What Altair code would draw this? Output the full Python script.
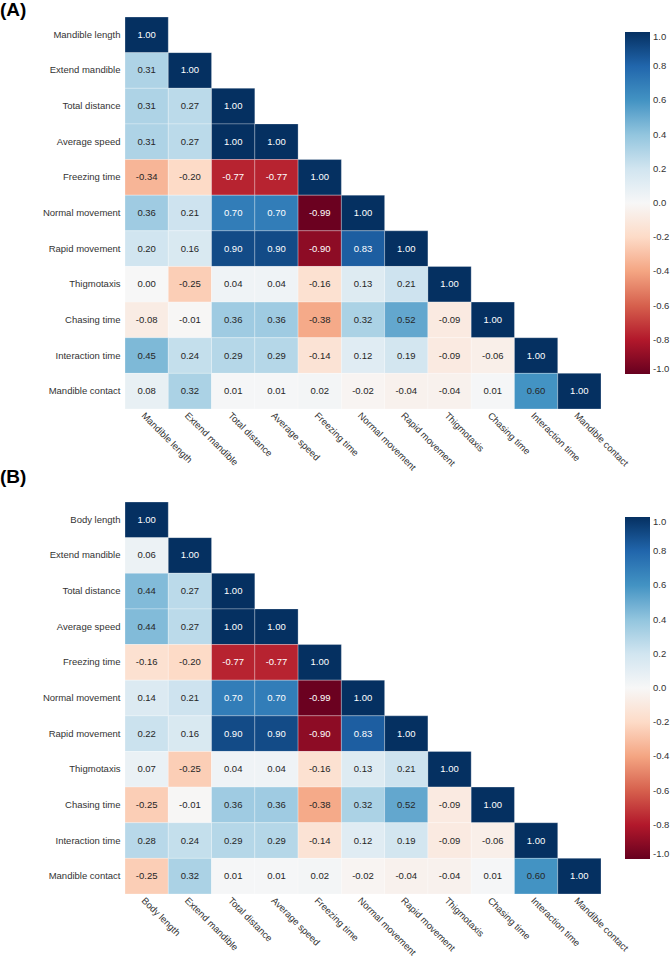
import altair as alt
import pandas as pd

# Variables of the two correlation matrices (row/column order)
vars_a = ["Mandible length", "Extend mandible", "Total distance", "Average speed",
          "Freezing time", "Normal movement", "Rapid movement", "Thigmotaxis",
          "Chasing time", "Interaction time", "Mandible contact"]
vars_b = ["Body length", "Extend mandible", "Total distance", "Average speed",
          "Freezing time", "Normal movement", "Rapid movement", "Thigmotaxis",
          "Chasing time", "Interaction time", "Mandible contact"]

# Lower triangle of each Pearson correlation matrix, one list per row
rows_a = [
    [1.00],
    [0.31, 1.00],
    [0.31, 0.27, 1.00],
    [0.31, 0.27, 1.00, 1.00],
    [-0.34, -0.20, -0.77, -0.77, 1.00],
    [0.36, 0.21, 0.70, 0.70, -0.99, 1.00],
    [0.20, 0.16, 0.90, 0.90, -0.90, 0.83, 1.00],
    [0.00, -0.25, 0.04, 0.04, -0.16, 0.13, 0.21, 1.00],
    [-0.08, -0.01, 0.36, 0.36, -0.38, 0.32, 0.52, -0.09, 1.00],
    [0.45, 0.24, 0.29, 0.29, -0.14, 0.12, 0.19, -0.09, -0.06, 1.00],
    [0.08, 0.32, 0.01, 0.01, 0.02, -0.02, -0.04, -0.04, 0.01, 0.60, 1.00],
]
rows_b = [
    [1.00],
    [0.06, 1.00],
    [0.44, 0.27, 1.00],
    [0.44, 0.27, 1.00, 1.00],
    [-0.16, -0.20, -0.77, -0.77, 1.00],
    [0.14, 0.21, 0.70, 0.70, -0.99, 1.00],
    [0.22, 0.16, 0.90, 0.90, -0.90, 0.83, 1.00],
    [0.07, -0.25, 0.04, 0.04, -0.16, 0.13, 0.21, 1.00],
    [-0.25, -0.01, 0.36, 0.36, -0.38, 0.32, 0.52, -0.09, 1.00],
    [0.28, 0.24, 0.29, 0.29, -0.14, 0.12, 0.19, -0.09, -0.06, 1.00],
    [-0.25, 0.32, 0.01, 0.01, 0.02, -0.02, -0.04, -0.04, 0.01, 0.60, 1.00],
]

# Colour bar tick values
cbar_ticks = [1.0, 0.8, 0.6, 0.4, 0.2, 0.0, -0.2, -0.4, -0.6, -0.8, -1.0]

# Diverging red-blue palette (ColorBrewer RdBu, 11 stops from -1 to 1)
RDBU_STOPS = [-1.0, -0.8, -0.6, -0.4, -0.2, 0.0, 0.2, 0.4, 0.6, 0.8, 1.0]
RDBU = ["#67001f", "#b2182b", "#d6604d", "#f4a582", "#fddbc7", "#f7f7f7",
        "#d1e5f0", "#92c5de", "#4393c3", "#2166ac", "#053061"]

FONT = "Liberation Sans"
TXT = "#333333"


def to_long(names, rows):
    recs = []
    for i, row in enumerate(rows):
        for j, v in enumerate(row):
            recs.append({"row": names[i], "col": names[j], "r": v, "label": f"{v:.2f}"})
    return pd.DataFrame(recs)


def panel(tag, names, rows, title_offset):
    df = to_long(names, rows)
    base = alt.Chart(df).encode(
        x=alt.X("col:N", sort=names, title=None,
                scale=alt.Scale(paddingInner=0, paddingOuter=0),
                axis=alt.Axis(labelAngle=45, labelAlign="left", labelBaseline="top",
                              labelFont=FONT, labelFontSize=9.5, labelColor=TXT,
                              labelPadding=1, ticks=False, domain=False)),
        y=alt.Y("row:N", sort=names, title=None,
                scale=alt.Scale(paddingInner=0, paddingOuter=0),
                axis=alt.Axis(labelFont=FONT, labelFontSize=9.5, labelColor=TXT,
                              labelPadding=5, ticks=False, domain=False)),
    )
    cells = base.mark_rect(stroke="white", strokeWidth=0.6, strokeOpacity=0.45).encode(
        color=alt.Color(
            "r:Q",
            scale=alt.Scale(domain=RDBU_STOPS, range=RDBU, interpolate="rgb"),
            legend=alt.Legend(
                title=None, orient="none", legendX=500, legendY=15,
                direction="vertical", gradientLength=342, gradientThickness=25,
                gradientStrokeWidth=0, values=cbar_ticks,
                labelExpr="replace(format(datum.value, '.1f'), '\u2212', '-')",
                labelFont=FONT, labelFontSize=9.5, labelColor=TXT,
                labelOffset=3, labelOverlap=False,
            ),
        )
    )
    labels = base.mark_text(font=FONT, fontSize=9.5).encode(
        text="label:N",
        color=alt.condition("abs(datum.r) >= 0.65", alt.value("white"), alt.value("#262626")),
    )
    return alt.layer(cells, labels).properties(
        width=476, height=392,
        title=alt.TitleParams(tag, anchor="start", frame="group", dx=-125,
                              offset=title_offset, font=FONT, fontSize=19,
                              fontWeight="bold", color="black"),
    )


chart = alt.vconcat(
    panel("(A)", vars_a, rows_a, -3),
    panel("(B)", vars_b, rows_b, 15),
    spacing=-5,
).resolve_scale(color="independent").properties(
    padding={"left": 0, "top": 0, "right": 0, "bottom": 0},
    background="white",
).configure_view(stroke=None)

chart.save("out.html", embed_options={"renderer": "svg", "actions": False})
